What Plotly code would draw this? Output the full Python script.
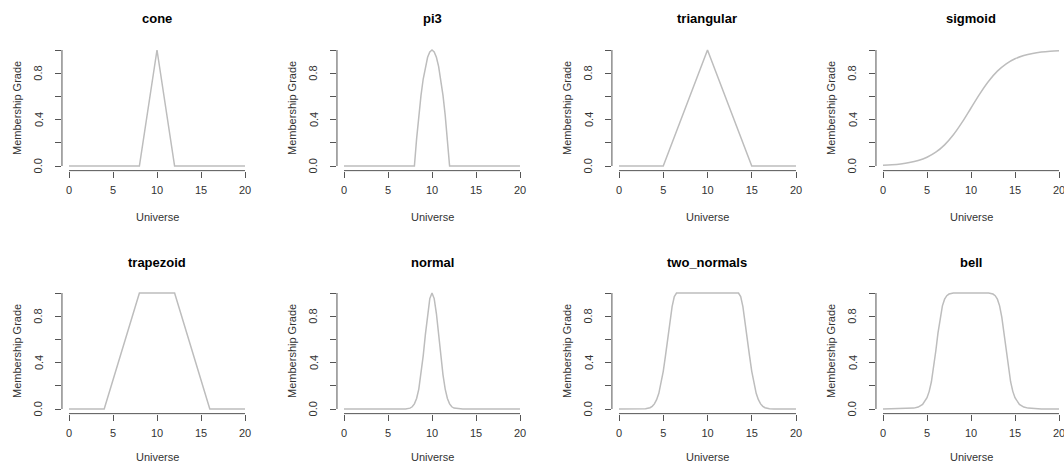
import plotly.graph_objects as go

W, H = 1064, 464

titles = ["cone", "pi3", "triangular", "sigmoid",
          "trapezoid", "normal", "two_normals", "bell"]

cone_x = [0, 8, 10, 12, 20]
cone_y = [0, 0, 1, 0, 0]

pi3_x = [0, 8, 8.25, 8.5, 8.75, 9, 9.25, 9.5, 9.75, 10,
         10.25, 10.5, 10.75, 11, 11.25, 11.5, 11.75, 12, 20]
pi3_y = [0, 0, 0.234, 0.4375, 0.609, 0.75, 0.859, 0.9375, 0.984, 1,
         0.984, 0.9375, 0.859, 0.75, 0.609, 0.4375, 0.234, 0, 0]

tri_x = [0, 5, 10, 15, 20]
tri_y = [0, 0, 1, 0, 0]

sig_x = list(range(0, 21))
sig_y = [0.0067, 0.0110, 0.0180, 0.0293, 0.0474, 0.0759, 0.1192, 0.1824,
         0.2689, 0.3775, 0.5, 0.6225, 0.7311, 0.8176, 0.8808, 0.9241,
         0.9526, 0.9707, 0.9820, 0.9890, 0.9933]

trap_x = [0, 4, 8, 12, 16, 20]
trap_y = [0, 0, 1, 1, 0, 0]

norm_x = [0, 6.5, 7, 7.5, 7.75, 8, 8.25, 8.5, 8.75, 9, 9.25, 9.5, 9.75, 10,
          10.25, 10.5, 10.75, 11, 11.25, 11.5, 11.75, 12, 12.25, 12.5, 13, 13.5, 20]
norm_y = [0, 0.0001, 0.0009, 0.0076, 0.019, 0.044, 0.091, 0.172, 0.295, 0.458,
          0.644, 0.823, 0.952, 1,
          0.952, 0.823, 0.644, 0.458, 0.295, 0.172, 0.091, 0.044, 0.019, 0.0076,
          0.0009, 0.0001, 0]

twon_x = [0, 2.5, 3, 3.5, 3.75, 4, 4.25, 4.5, 4.75, 5, 5.25, 5.5, 5.75, 6, 6.25, 6.5,
          13.5, 13.75, 14, 14.25, 14.5, 14.75, 15, 15.25, 15.5, 15.75, 16, 16.25,
          16.5, 17, 17.5, 20]
twon_y = [0, 0, 0.002, 0.011, 0.023, 0.044, 0.080, 0.135, 0.216, 0.325, 0.458,
          0.607, 0.755, 0.882, 0.969, 1,
          1, 0.969, 0.882, 0.755, 0.607, 0.458, 0.325, 0.216, 0.135, 0.080, 0.044,
          0.023, 0.011, 0.002, 0, 0]

bell_x = [0, 2, 3, 3.5, 4, 4.5, 5, 5.25, 5.5, 5.75, 6, 6.25, 6.5, 6.75, 7, 7.25,
          7.5, 8, 9, 10, 11, 12, 12.5, 12.75, 13, 13.25, 13.5, 13.75, 14, 14.25,
          14.5, 14.75, 15, 15.5, 16, 16.5, 17, 18, 20]
bell_y = [0.0001, 0.001, 0.0037, 0.0077, 0.017, 0.040, 0.097, 0.152, 0.235, 0.353,
          0.5, 0.656, 0.792, 0.889, 0.947, 0.977, 0.991, 0.999, 1, 1, 1, 0.999,
          0.991, 0.977, 0.947, 0.889, 0.792, 0.656, 0.5, 0.353, 0.235, 0.152,
          0.097, 0.040, 0.017, 0.0077, 0.0037, 0.001, 0.0001]

series = [(cone_x, cone_y, "linear"), (pi3_x, pi3_y, "linear"),
          (tri_x, tri_y, "linear"), (sig_x, sig_y, "spline"),
          (trap_x, trap_y, "linear"), (norm_x, norm_y, "linear"),
          (twon_x, twon_y, "linear"), (bell_x, bell_y, "linear")]

x_ticks = [0, 5, 10, 15, 20]
y_ticks = [0, 0.2, 0.4, 0.6, 0.8, 1.0]
y_label_vals = [0.0, 0.4, 0.8]
y_label_text = ["0.0", "0.4", "0.8"]

# pixel layout of each panel: (x of value 0, x of value 20), (y of 1, y of 0)
col_px = [(69, 245), (344, 520), (619, 796), (883, 1059)]
row_px = [(50, 166), (293, 409)]
universe_off = [51, 48]

AXC = "#555555"
TXT = "#333333"
LINE = "#bdbdbd"
FONT = "Liberation Sans, Arial, sans-serif"

fig = go.Figure()
annotations = []
shapes = []

for i, (xs, ys, shp) in enumerate(series):
    r, c = divmod(i, 4)
    x0p, x20p = col_px[c]
    y1p, y0p = row_px[r]
    sx = (x20p - x0p) / 20.0
    sy = (y0p - y1p) / 1.0
    left = x0p - 0.8 * sx
    right = x20p + 0.8 * sx
    xmax = 20.8
    if right > W:
        right = W
        xmax = 20 + (W - x20p) / sx
    top = y1p - 0.04 * sy
    bot = y0p + 0.04 * sy
    n = "" if i == 0 else str(i + 1)
    fig.add_trace(go.Scatter(x=xs, y=ys, mode="lines",
                             line=dict(color=LINE, width=1.5, shape=shp),
                             xaxis="x" + n, yaxis="y" + n, showlegend=False,
                             hoverinfo="skip"))
    fig.layout["xaxis" + n] = dict(
        domain=[left / W, right / W], range=[-0.8, xmax], anchor="y" + n,
        tickvals=x_ticks, ticks="outside", ticklen=6, tickcolor=AXC,
        showgrid=False, zeroline=False, showline=False, ticklabelstandoff=3,
        ticklabeloverflow="allow",
        tickfont=dict(family=FONT, size=11, color=TXT), fixedrange=True)
    fig.layout["yaxis" + n] = dict(
        domain=[1 - bot / H, 1 - top / H], range=[-0.04, 1.04], anchor="x" + n,
        tickvals=y_ticks, ticks="outside", ticklen=6, tickcolor=AXC,
        showticklabels=False, showgrid=False, zeroline=False, showline=False,
        fixedrange=True)
    xr = "x" + n
    yr = "y" + n
    shapes.append(dict(type="line", xref=xr, yref=yr + " domain", x0=0, x1=20,
                       y0=0, y1=0, line=dict(color=AXC, width=1)))
    shapes.append(dict(type="line", xref=xr + " domain", yref=yr, x0=0, x1=0,
                       y0=0, y1=1, line=dict(color=AXC, width=1)))
    # rotated y tick labels (R style, parallel to the axis)
    for v, t in zip(y_label_vals, y_label_text):
        annotations.append(dict(text=t, xref="paper", yref=yr,
                                x=(left - 23.5) / W, y=v, showarrow=False,
                                textangle=-90, xanchor="center",
                                yanchor="middle",
                                font=dict(family=FONT, size=11, color=TXT)))
    cx = (left + right) / 2 if right < W else (x0p + x20p) / 2
    annotations.append(dict(text="<b>" + titles[i] + "</b>", xref="paper",
                            yref="paper", x=cx / W, y=1 - (y1p - 31) / H,
                            showarrow=False, xanchor="center", yanchor="middle",
                            font=dict(family=FONT, size=13, color="#000000")))
    annotations.append(dict(text="Universe", xref="paper", yref="paper",
                            x=cx / W, y=1 - (y0p + universe_off[r]) / H,
                            showarrow=False, xanchor="center", yanchor="middle",
                            font=dict(family=FONT, size=11, color=TXT)))
    annotations.append(dict(text="Membership Grade", xref="paper", yref="paper",
                            x=(left - 45) / W, y=1 - ((y1p + y0p) / 2) / H,
                            showarrow=False, textangle=-90, xanchor="center",
                            yanchor="middle",
                            font=dict(family=FONT, size=11, color=TXT)))

fig.update_layout(width=W, height=H, margin=dict(l=0, r=0, t=0, b=0),
                  paper_bgcolor="white", plot_bgcolor="white",
                  annotations=annotations, shapes=shapes, showlegend=False)

fig.write_html("out.html", config={"displayModeBar": False},
               post_script="document.body.style.margin='0';"
                           "document.body.style.padding='0';")
